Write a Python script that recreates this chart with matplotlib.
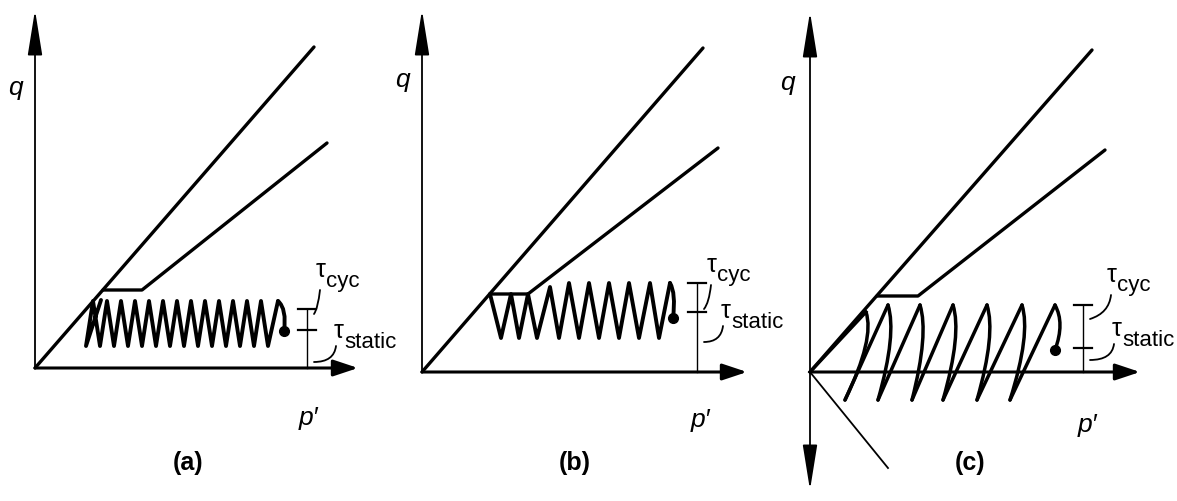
import matplotlib
matplotlib.use("Agg")
import matplotlib.pyplot as plt
from matplotlib.path import Path
from matplotlib.patches import PathPatch

plt.rcParams['font.family'] = ['Liberation Sans', 'DejaVu Sans']

# --- diagram geometry (pixel units, y down) ---
origin_x = [35, 422, 810]
axis_y = [368, 372, 372]
yaxis_top = [10, 10, 12]
yaxis_bottom = [None, None, 490]
xaxis_tip = [358, 747, 1140]

upper_end_x = [314, 703, 1092]
upper_end_y = [47, 48, 50]
flat_y = [290, 294, 296]
flat_start_x = [103, 490, 877]
lower_start_x = [142, 528, 918]
lower_end_x = [327, 718, 1105]
lower_end_y = [143, 148, 150]

# (a) tight stress path
a_start = (101, 300)
a_valley_x = [86, 100, 114, 128, 142, 156, 170, 184, 198, 212, 226, 240, 254, 268]
a_peak_x = [93, 107, 121, 135, 149, 163, 177, 191, 205, 219, 233, 247, 261, 278]
a_peak_y = 301
a_valley_y = 346
a_dot = (284, 331)

# (b)
b_start = (490, 294)
b_valley_x = [501, 519, 537, 559, 579, 599, 619, 639, 659]
b_peak_x = [511, 528, 550, 569, 589, 609, 629, 650, 670]
b_peak_y = [294, 294, 287, 283, 283, 283, 283, 283, 283]
b_valley_y = 338
b_dot = (673, 318)

# (c) stress reversal
c_start = (810, 372)
c_first_peak = (866, 312)
c_valley_x = [845, 878, 912, 943, 977, 1010]
c_peak_x = [888, 920, 953, 987, 1022, 1055]
c_peak_y = 305
c_valley_y = 400
c_dot = (1055, 350)
c_thin_end = (888, 468)

bracket_x = [307, 697, 1083]
bracket_top = [309, 283, 305]
bracket_mid = [330, 312, 348]

tau_cyc_pos = [(316, 270), (707, 265), (1107, 275)]
tau_static_pos = [(334, 331), (721, 311), (1112, 329)]
q_pos = [(15, 88), (402, 80), (787, 83)]
p_pos = [(308, 418), (700, 420), (1087, 425)]
panel_labels = ['(a)', '(b)', '(c)']
panel_label_x = [188, 575, 970]
panel_label_y = 463

fig = plt.figure(figsize=(11.77, 5.01), dpi=100)
ax = fig.add_axes([0, 0, 1, 1])
ax.set_xlim(0, 1177)
ax.set_ylim(501, 0)
ax.axis('off')

K = 'black'


def arrow(x0, y0, x1, y1, lw, hl, hw):
    ax.annotate('', xy=(x1, y1), xytext=(x0, y0),
                arrowprops=dict(arrowstyle='-|>,head_length=%g,head_width=%g' % (hl, hw),
                                lw=lw, color=K, shrinkA=0, shrinkB=0))


def curve(p0, c, p1, lw):
    path = Path([p0, c, p1], [Path.MOVETO, Path.CURVE3, Path.CURVE3])
    ax.add_patch(PathPatch(path, fill=False, lw=lw, ec=K, capstyle='round', joinstyle='round'))


for i in range(3):
    ox, oy = origin_x[i], axis_y[i]
    # axes
    arrow(ox, oy, ox, yaxis_top[i], 1.3, 2.8, 0.45)
    if yaxis_bottom[i] is not None:
        arrow(ox, oy, ox, yaxis_bottom[i], 1.3, 2.8, 0.45)
    arrow(ox, oy, xaxis_tip[i], oy, 2.2, 1.5, 0.5)
    # failure lines
    ax.plot([ox, upper_end_x[i]], [oy, upper_end_y[i]], color=K, lw=2.4, solid_capstyle='round')
    ax.plot([flat_start_x[i], lower_start_x[i], lower_end_x[i]],
            [flat_y[i], flat_y[i], lower_end_y[i]], color=K, lw=2.4,
            solid_capstyle='round', solid_joinstyle='round')
    # bracket
    bx = bracket_x[i]
    ax.plot([bx, bx], [bracket_top[i], oy], color=K, lw=1.0)
    for yy in (bracket_top[i], bracket_mid[i]):
        ax.plot([bx - 9, bx + 9], [yy, yy], color=K, lw=1.6)
    # labels
    tx, ty = tau_cyc_pos[i]
    ax.text(tx, ty, 'τ', fontsize=18, ha='left', va='center')
    ax.text(tx + 10, ty + 11, 'cyc', fontsize=16, ha='left', va='center')
    curve((tx + 4, ty + 20), (tx + 2, ty + 38), (bx + 7, ty + 44), 1.3)
    sx, sy = tau_static_pos[i]
    ax.text(sx, sy, 'τ', fontsize=18, ha='left', va='center')
    ax.text(sx + 10, sy + 11, 'static', fontsize=16, ha='left', va='center')
    curve((sx + 2, sy + 15), (sx, sy + 31), (bx + 7, sy + 31), 1.3)
    qx, qy = q_pos[i]
    ax.text(qx, qy, 'q', fontsize=19, style='italic', ha='center', va='center')
    px, py = p_pos[i]
    ax.text(px, py, "p\u2032", fontsize=19, style='italic', ha='center', va='center')
    ax.text(panel_label_x[i], panel_label_y, panel_labels[i], fontsize=18,
            fontweight='bold', ha='center', va='center')

# (a) path
xs, ys = [a_start[0]], [a_start[1]]
for v, p in zip(a_valley_x, a_peak_x):
    xs += [v, p]
    ys += [a_valley_y, a_peak_y]
ax.plot(xs, ys, color=K, lw=2.8, solid_joinstyle='round', solid_capstyle='round')
curve((a_peak_x[-1], a_peak_y), (a_dot[0] + 3, a_peak_y + 8), a_dot, 2.8)
ax.plot(*a_dot, 'o', color=K, ms=7)

# (b) path
xs, ys = [b_start[0]], [b_start[1]]
for v, p, py in zip(b_valley_x, b_peak_x, b_peak_y):
    xs += [v, p]
    ys += [b_valley_y, py]
ax.plot(xs, ys, color=K, lw=2.8, solid_joinstyle='round', solid_capstyle='round')
curve((b_peak_x[-1], b_peak_y[-1]), (b_dot[0] + 3, b_peak_y[-1] + 10), b_dot, 2.8)
ax.plot(*b_dot, 'o', color=K, ms=7)

# (c) path
ax.plot([c_start[0], c_thin_end[0]], [c_start[1], c_thin_end[1]], color=K, lw=1.3)
ax.plot([c_start[0], c_first_peak[0]], [c_start[1], c_first_peak[1]], color=K, lw=2.4)
prev = c_first_peak
for v, p in zip(c_valley_x, c_peak_x):
    curve(prev, (max(prev[0], v) + 9, prev[1] + 0.3 * (c_valley_y - prev[1])), (v, c_valley_y), 2.5)
    ax.plot([v, p], [c_valley_y, c_peak_y], color=K, lw=2.5, solid_capstyle='round')
    prev = (p, c_peak_y)
curve(prev, (prev[0] + 10, prev[1] + 18), c_dot, 2.5)
ax.plot(*c_dot, 'o', color=K, ms=7)

fig.savefig('out.png', dpi=100)
